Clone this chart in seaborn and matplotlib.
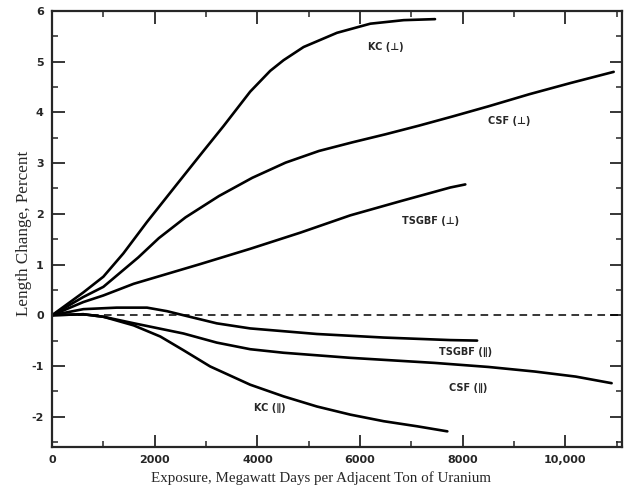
import numpy as np
import pandas as pd
import matplotlib
matplotlib.use("Agg")
import matplotlib.pyplot as plt
import seaborn as sns
from matplotlib.ticker import MultipleLocator, FixedLocator, FuncFormatter

# ---- data ----
kc_perp_x = [0, 610, 1000, 1390, 1850, 2430, 2950, 3340, 3860, 4250, 4510, 4900, 5550, 6200, 6850, 7460]
kc_perp_y = [0, 0.45, 0.76, 1.22, 1.84, 2.58, 3.24, 3.73, 4.41, 4.82, 5.03, 5.29, 5.57, 5.75, 5.82, 5.84]

csf_perp_x = [0, 610, 1000, 1680, 2080, 2600, 3250, 3900, 4550, 5200, 5850, 6500, 7150, 7800, 8500, 9300, 10100, 10940]
csf_perp_y = [0, 0.36, 0.56, 1.14, 1.52, 1.93, 2.35, 2.71, 3.01, 3.24, 3.41, 3.57, 3.74, 3.92, 4.12, 4.36, 4.58, 4.80]

tsgbf_perp_x = [0, 610, 1000, 1590, 2890, 3860, 4840, 5810, 6790, 7760, 8050]
tsgbf_perp_y = [0, 0.26, 0.39, 0.62, 1.01, 1.31, 1.63, 1.97, 2.25, 2.52, 2.58]

tsgbf_par_x = [0, 610, 1260, 1850, 2240, 2560, 3210, 3860, 5160, 6460, 7760, 8280]
tsgbf_par_y = [0, 0.12, 0.15, 0.15, 0.08, 0.0, -0.16, -0.26, -0.37, -0.44, -0.49, -0.50]

csf_par_x = [0, 610, 1000, 1600, 2560, 3210, 3860, 4510, 5810, 7450, 8500, 9400, 10200, 10900]
csf_par_y = [0, 0.02, -0.03, -0.16, -0.36, -0.54, -0.67, -0.74, -0.84, -0.94, -1.02, -1.11, -1.21, -1.34]

kc_par_x = [0, 610, 1000, 1590, 2110, 2560, 3080, 3860, 4510, 5160, 5810, 6460, 7110, 7700]
kc_par_y = [0, 0.02, -0.03, -0.20, -0.42, -0.69, -1.01, -1.37, -1.60, -1.80, -1.96, -2.09, -2.19, -2.29]

series_names = ["KC (⊥)", "CSF (⊥)", "TSGBF (⊥)", "TSGBF (∥)", "CSF (∥)", "KC (∥)"]
series_x = [kc_perp_x, csf_perp_x, tsgbf_perp_x, tsgbf_par_x, csf_par_x, kc_par_x]
series_y = [kc_perp_y, csf_perp_y, tsgbf_perp_y, tsgbf_par_y, csf_par_y, kc_par_y]

# label anchor positions (data coords)
label_x = [6500, 8900, 7380, 8060, 8100, 4240]
label_y = [5.29, 3.84, 1.86, -0.72, -1.43, -1.82]

x_tick_values = [0, 2000, 4000, 6000, 8000, 10000]
x_tick_labels = ["0", "2000", "4000", "6000", "8000", "10,000"]

rows = []
for name, xs, ys in zip(series_names, series_x, series_y):
    for xv, yv in zip(xs, ys):
        rows.append({"exposure": xv, "change": yv, "series": name})
df = pd.DataFrame(rows)

sns.set_style("ticks")
plt.rcParams["font.family"] = ["DejaVu Sans"]

fig = plt.figure(figsize=(6.29, 4.94), dpi=100)
ax = fig.add_axes([0.0827, 0.095, 0.906, 0.8827])

sns.lineplot(data=df, x="exposure", y="change", hue="series", units="series",
             estimator=None, sort=False,
             palette={n: "black" for n in series_names}, linewidth=1.9,
             legend=False, ax=ax)
ax.axhline(0, color="black", linestyle=(0, (5, 3.5)), linewidth=1.1)

ax.set_xlim(0, 11100)
ax.set_ylim(-2.6, 6)

# ticks
ax.xaxis.set_major_locator(FixedLocator(x_tick_values))
ax.xaxis.set_minor_locator(MultipleLocator(1000))
ax.set_xticklabels(x_tick_labels)
ax.yaxis.set_major_locator(MultipleLocator(1))
ax.yaxis.set_minor_locator(MultipleLocator(0.5))
ax.yaxis.set_major_formatter(FuncFormatter(lambda v, p: f"{int(round(v))}"))
ax.tick_params(axis="both", which="major", direction="in", length=9, width=1.3,
               top=True, right=True, labelsize=8, pad=6)
ax.tick_params(axis="both", which="minor", direction="in", length=4, width=1.1,
               top=True, right=True)
for lab in ax.get_xticklabels() + ax.get_yticklabels():
    lab.set_fontweight("bold")
for s in ax.spines.values():
    s.set_linewidth(1.6)
    s.set_visible(True)

ax.set_xlabel("Exposure, Megawatt Days per Adjacent Ton of Uranium",
              family="Liberation Serif", fontsize=10.8)
ax.xaxis.set_label_coords(0.472, -0.055)
ax.set_ylabel("Length Change, Percent", family="Liberation Serif",
              fontsize=12.3)
ax.yaxis.set_label_coords(-0.035, 0.49)

for name, lx, ly in zip(series_names, label_x, label_y):
    ax.text(lx, ly, name, ha="center", va="center", fontsize=7,
            fontweight="bold", family=["DejaVu Sans"])

fig.savefig("out.png", dpi=100)
